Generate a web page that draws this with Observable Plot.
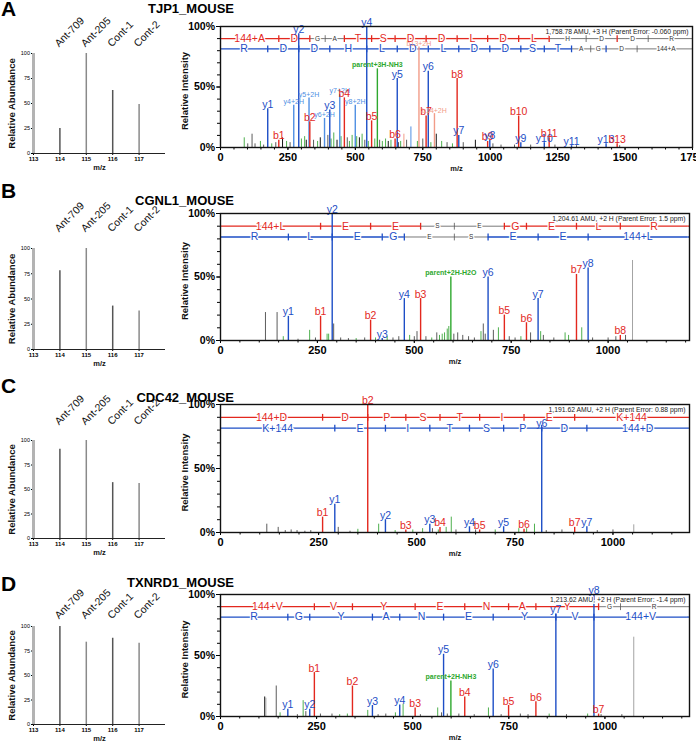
<!DOCTYPE html>
<html><head><meta charset="utf-8">
<script src="https://cdn.jsdelivr.net/npm/d3@7"></script>
<script src="https://cdn.jsdelivr.net/npm/@observablehq/plot@0.6"></script>
<style>
body{margin:0;background:#fff;font-family:Arial,"Liberation Sans",Helvetica,sans-serif;}
#fig{position:relative;width:696px;height:742px;overflow:hidden;background:#fff;}
.abs{position:absolute;line-height:1;white-space:nowrap;}
.letter{font-weight:bold;font-size:21px;color:#000;}
.title{font-weight:bold;font-size:13px;color:#000;text-align:right;width:234px;left:0;}
</style></head><body><div id="fig"></div>
<script>
// ---------- data ----------
const panelLetters = ["A","B","C","D"];
const proteins = ["TJP1_MOUSE","CGNL1_MOUSE","CDC42_MOUSE","TXNRD1_MOUSE"];
const channels = [114,115,116,117];
const channelLabels = ["Ant-709","Ant-205","Cont-1","Cont-2"];
const reporterA = [25,100,63,49];
const reporterB = [78,100,43,38];
const reporterC = [91,100,57,56];
const reporterD = [100,84,88,83];
const reporterTicks = [113,114,115,116,117];
const abundanceTicks = [0,25,50,75,100];
const intensityTicks = [0,50,100];
const mzTicksA = [0,250,500,750,1000,1250,1500,1750];
const mzTicksBCD = [0,250,500,750,1000];
const parentTexts = [
  "1,758.78 AMU, +3 H (Parent Error: -0.060 ppm)",
  "1,204.61 AMU, +2 H (Parent Error: 1.5 ppm)",
  "1,191.62 AMU, +2 H (Parent Error: 0.88 ppm)",
  "1,213.62 AMU, +2 H (Parent Error: -1.4 ppm)"
];

// Panel A  ADGATSDDLDLHDDR
const bLabelsA = ["144+A","D","G","A","T","S","D","D","L","D","L","H","D","D","R"];
const bIonsA = [216.15,331.17,388.19,459.23,560.28,647.31,762.34,877.36,990.45,1105.47,1218.56,1355.62,1470.65,1585.67];
const bSeenA = [1,1,0,1,1,1,1,1,1,1,1,0,1,0];
const yLabelsA = ["R","D","D","H","L","D","L","D","D","S","T","A","G","D","144+A"];
const yIonsA = [175.12,290.15,405.17,542.23,655.32,770.34,883.43,998.45,1113.48,1200.51,1301.56,1372.59,1429.62,1544.64];
const ySeenA = [1,1,1,1,1,1,1,1,1,1,1,0,1,0];
const mhA = 1759.78;
const annotA = [
  [175.12,32,"y1","y"],[216.15,6,"b1","b"],[271.6,35,"y4+2H","y2"],[290.15,94,"y2","y"],
  [328.2,41,"y5+2H","y2"],[331.17,21,"b2","b"],[385.7,24,"y6+2H","y2"],[405.17,31,"y3","y"],
  [442.2,44,"y7+2H","y2"],[459.23,41,"b4","b"],[499.7,35,"y8+2H","y2"],[542.23,100,"y4","y"],
  [560.28,22,"b5","b"],[581.6,65,"parent+3H-NH3","p"],[647.31,7,"b6","b"],[655.32,57,"y5","y"],
  [735.8,83,"b13+2H","b2"],[762.34,26,"b7","b"],[770.34,63,"y6","y"],[793.3,28,"b14+2H","b2"],
  [877.36,57,"b8","b"],[883.43,10,"y7","y"],[990.45,5,"b9","b"],[998.45,6,"y8","y"],
  [1105.47,26,"b10","b"],[1113.48,4,"y9","y"],[1200.51,4,"y10","y"],[1218.56,8,"b11","b"],
  [1301.56,1.5,"y11","y"],[1429.62,3,"y13","y"],[1470.65,3,"b13","b"]
];
const noiseA = [
  [88,8,"g"],[101,3,"k"],[117,11,"k"],[128,3,"k"],[148,5,"g"],[160,2,"k"],[190,3,"g"],[205,4,"k"],
  [230,8,"K"],[245,5,"g"],[258,4,"k"],[300,7,"g"],[312,9,"g"],[318,6,"K"],[345,6,"k"],[360,5,"g"],
  [370,8,"K"],[398,10,"k"],[410,7,"g"],[420,12,"g"],[432,6,"K"],[447,9,"g"],[470,8,"k"],[478,5,"g"],
  [488,10,"g"],[505,9,"g"],[515,8,"K"],[525,11,"g"],[535,6,"k"],[548,5,"g"],[572,7,"g"],[590,6,"k"],
  [600,5,"g"],[612,7,"g"],[622,5,"K"],[632,6,"g"],[660,4,"k"],[668,5,"g"],[680,11,"lr"],[690,6,"k"],
  [706,17,"lb"],[730,5,"g"],[750,7,"k"],[780,4,"g"],[800,11,"K"],[820,5,"g"],[840,4,"k"],[860,3,"g"],
  [900,4,"k"],[945,6,"K"],[1010,3,"k"],[1040,2,"k"],[1090,2,"k"],[1150,2,"k"],[1240,2,"k"],
  [1320,1.5,"k"],[1480,1.5,"k"]
];

// Panel B  LEESEGELR
const bLabelsB = ["144+L","E","E","S","E","G","E","L","R"];
const bIonsB = [258.19,387.24,516.28,603.31,732.35,789.37,918.41,1031.50];
const bSeenB = [1,1,1,0,1,1,1,1];
const yLabelsB = ["R","L","E","G","E","S","E","E","144+L"];
const yIonsB = [175.12,288.20,417.25,474.27,603.31,690.34,819.39,948.43];
const ySeenB = [1,1,1,1,0,1,1,1];
const mhB = 1205.6;
const annotB = [
  [175.12,19,"y1","y"],[258.19,19,"b1","b"],[288.2,100,"y2","y"],[387.24,16,"b2","b"],
  [417.25,1.5,"y3","y"],[474.27,33,"y4","y"],[516.28,33,"b3","b"],[594.3,50,"parent+2H-H2O","p"],
  [690.34,50,"y6","y"],[732.35,20,"b5","b"],[789.37,14,"b6","b"],[819.39,33,"y7","y"],
  [918.41,52,"b7","b"],[948.43,57,"y8","y"],[1031.5,4,"b8","b"]
];
const noiseB = [
  [116,22,"k"],[146,22,"k"],[162,3,"g"],[200,1,"k"],[230,8,"g"],[245,2,"k"],[275,5,"g"],[279,5,"g"],
  [292,13,"k"],[310,2,"k"],[330,1.5,"k"],[350,1.5,"g"],[372,2,"k"],[400,2,"g"],[430,3,"g"],[445,2,"k"],
  [460,3,"k"],[488,4,"g"],[500,3,"k"],[507,7,"k"],[530,3,"k"],[545,2,"g"],[558,6,"k"],[565,4,"g"],
  [572,5,"g"],[578,6,"g"],[585,9,"g"],[589,11,"g"],[602,5,"k"],[612,6,"k"],[625,4,"k"],[640,3,"k"],
  [655,2,"k"],[672,7,"g"],[678,13,"k"],[683,5,"k"],[704,8,"k"],[717,10,"g"],[745,3,"k"],[760,2,"k"],
  [775,3,"g"],[800,6,"k"],[826,7,"g"],[833,4,"k"],[860,2,"k"],[889,6,"g"],[898,4,"g"],[932,10,"g"],
  [960,2,"k"],[1000,2,"k"],[1020,3,"k"],[1045,4,"k"],[1063,63,"n"]
];

// Panel C  DDPSTIEK
const bLabelsC = ["144+D","D","P","S","T","I","E","K+144"];
const bIonsC = [260.14,375.16,472.22,559.25,660.30,773.38,902.42];
const bSeenC = [1,1,1,1,1,1,1];
const yLabelsC = ["K+144","E","I","T","S","P","D","144+D"];
const yIonsC = [291.22,420.26,533.34,634.39,721.42,818.47,933.50];
const ySeenC = [1,1,1,1,1,1,1];
const mhC = 1192.63;
const annotC = [
  [260.14,12,"b1","b"],[291.22,22,"y1","y"],[375.16,100,"b2","b"],[420.26,10,"y2","y"],
  [472.22,2,"b3","b"],[533.34,6.5,"y3","y"],[559.25,4,"b4","b"],[634.39,4.5,"y4","y"],
  [660.3,2,"b5","b"],[721.42,4.5,"y5","y"],[773.38,2.5,"b6","b"],[818.47,82,"y6","y"],
  [902.42,4,"b7","b"],[933.5,4.5,"y7","y"]
];
const noiseC = [
  [118,6.5,"k"],[147,4,"k"],[165,1.5,"k"],[180,2,"k"],[195,1.5,"k"],[215,1,"k"],[230,1.5,"k"],
  [300,4,"k"],[330,1,"k"],[350,2.5,"g"],[403,6.5,"g"],[445,1.5,"g"],[490,2,"g"],[515,3,"g"],
  [540,3,"k"],[555,2,"g"],[575,4,"g"],[588,12,"g"],[600,2,"k"],[650,2,"k"],[700,2,"g"],[760,3,"g"],
  [780,3,"g"],[800,6.5,"g"],[830,1.5,"k"],[870,2,"k"],[960,1.5,"k"],[1000,2,"k"],[1053,6,"n"]
];

// Panel D  VVYENAYGR
const bLabelsD = ["144+V","V","Y","E","N","A","Y","G","R"];
const bIonsD = [244.18,343.25,506.31,635.35,749.40,820.43,983.50,1040.52];
const bSeenD = [1,1,1,1,1,1,1,0];
const yLabelsD = ["R","G","Y","A","N","E","Y","V","144+V"];
const yIonsD = [175.12,232.14,395.20,466.24,580.28,709.33,872.39,971.46];
const ySeenD = [1,1,1,1,1,1,1,1];
const mhD = 1214.63;
const annotD = [
  [175.12,6,"y1","y"],[232.14,6,"y2","y"],[244.18,36,"b1","b"],[343.25,25,"b2","b"],
  [395.2,9,"y3","y"],[466.24,9.5,"y4","y"],[506.31,7,"b3","b"],[580.28,51,"y5","y"],
  [599.3,29,"parent+2H-NH3","p"],[635.35,16,"b4","b"],[709.33,39,"y6","y"],[749.4,9,"b5","b"],
  [820.43,12,"b6","b"],[872.39,84,"y7","y"],[971.46,100,"y8","y"],[983.5,2,"b7","b"]
];
const noiseD = [
  [115,16,"K"],[118,15,"n"],[145,25,"k"],[155,3,"g"],[200,1.5,"k"],[215,13,"g"],[222,4,"k"],
  [260,2,"k"],[290,2,"k"],[310,1.5,"g"],[330,2,"g"],[383,5,"g"],[410,1.5,"k"],[430,2,"k"],
  [455,3,"g"],[475,10,"g"],[520,1.5,"k"],[565,7,"g"],[575,3,"k"],[590,2,"k"],[620,2,"k"],
  [660,1.5,"k"],[697,7,"g"],[730,1.5,"k"],[780,2,"k"],[800,1.5,"k"],[855,2,"g"],[900,1.5,"k"],
  [955,2,"g"],[990,1.5,"k"],[1044,1.5,"k"],[1075,65,"n"]
];

// ---------- style / layout ----------
const FONT = 'Arial, "Liberation Sans", Helvetica, sans-serif';
const RED = "#e3281e", BLUE = "#1d4ec6", LBLUE = "#4f8fe3", LRED = "#f29c88", GREEN = "#2ea82e";
const COL = {b: RED, y: BLUE, b2: LRED, y2: LBLUE, p: GREEN, g: "#4fb04f", k: "#5c5c5c", K: "#151515", n: "#a3a3a3", lb: LBLUE, lr: LRED};
const GREYLINE = "#555";
const intFmt = d => String(d);
const layout = [
  {lt: 53, lb: 153, gap: 6, rt: 26, rb: 147, right: 692, xmax: 1750, letterTop: -2, titleTop: 1.5},
  {lt: 248, lb: 349, gap: 16, rt: 213, rb: 340, right: 689, xmax: 1210, letterTop: 179.5, titleTop: 193.5},
  {lt: 440, lb: 538, gap: 15, rt: 404, rb: 532, right: 689, xmax: 1195, letterTop: 374.5, titleTop: 390.5},
  {lt: 626, lb: 724, gap: 7, rt: 594, rb: 716, right: 689, xmax: 1220, letterTop: 572.5, titleTop: 575.5}
];
const spectra = [
  {bIons: bIonsA, bSeen: bSeenA, bLabels: bLabelsA, yIons: yIonsA, ySeen: ySeenA, yLabels: yLabelsA, mh: mhA, annot: annotA, noise: noiseA, ticks: mzTicksA},
  {bIons: bIonsB, bSeen: bSeenB, bLabels: bLabelsB, yIons: yIonsB, ySeen: ySeenB, yLabels: yLabelsB, mh: mhB, annot: annotB, noise: noiseB, ticks: mzTicksBCD},
  {bIons: bIonsC, bSeen: bSeenC, bLabels: bLabelsC, yIons: yIonsC, ySeen: ySeenC, yLabels: yLabelsC, mh: mhC, annot: annotC, noise: noiseC, ticks: mzTicksBCD},
  {bIons: bIonsD, bSeen: bSeenD, bLabels: bLabelsD, yIons: yIonsD, ySeen: ySeenD, yLabels: yLabelsD, mh: mhD, annot: annotD, noise: noiseD, ticks: mzTicksBCD}
];
const reporters = [reporterA, reporterB, reporterC, reporterD];

const vbar = {draw(ctx, size) { const r = Math.sqrt(size / Math.PI); ctx.moveTo(0, -r); ctx.lineTo(0, r); }};

function ladder(ions, seen, labels, end, yv, xmax) {
  const segs = [];
  const n = ions.length;
  for (let i = 0; i <= n; i++) {
    const x1 = i === 0 ? 0 : ions[i - 1];
    const x2 = i === n ? end : ions[i];
    const on = (i === 0 || seen[i - 1] === 1) && (i === n || seen[i] === 1);
    segs.push({x1, x2, mid: (x1 + x2) / 2, label: labels[i], on, y: yv});
  }
  const last = segs[segs.length - 1];
  const lines = segs.slice();
  if (end < xmax) lines.push({x1: end, x2: xmax, on: last.on, y: yv});
  const ticks = ions.map((x, i) => ({x, on: seen[i] === 1, y: yv}));
  return {segs, lines, ticks};
}

function ladderMarks(L, col) {
  return [
    Plot.ruleY(L.lines, {x1: "x1", x2: "x2", y: "y", stroke: d => d.on ? col : GREYLINE, strokeWidth: d => d.on ? 1.3 : 0.8, clip: true}),
    Plot.dot(L.ticks, {x: "x", y: "y", symbol: vbar, r: 3.4, fill: "none", stroke: d => d.on ? col : GREYLINE, strokeWidth: d => d.on ? 1.3 : 0.8, clip: true}),
    Plot.text(L.segs, {x: "mid", y: "y", text: "label", fill: d => d.on ? col : "#333", fontSize: d => d.on ? 10.5 : 6.5,
      stroke: "white", strokeWidth: 2.5, paintOrder: "stroke", clip: true})
  ];
}

function spectrum(k) {
  const L = layout[k], S = spectra[k];
  const W = 526, mt = 20, mb = 30;
  const h = mt + (L.rb - L.rt) + mb;
  const red = ladder(S.bIons, S.bSeen, S.bLabels, S.mh, 90, L.xmax);
  const blue = ladder(S.yIons, S.ySeen, S.yLabels, S.mh, 81.5, L.xmax);
  const ions = S.annot.filter(d => d[3] !== "p");
  const par = S.annot.filter(d => d[3] === "p");
  return Plot.plot({
    width: W, height: h, marginTop: mt, marginBottom: mb, marginLeft: 50, marginRight: W - (L.right - 170),
    style: {fontFamily: FONT, background: "transparent", overflow: "visible"},
    x: {domain: [0, L.xmax]}, y: {domain: [0, 100]},
    marks: [
      Plot.axisY({ticks: d3.range(0, 101, 10), tickFormat: () => "", tickSize: 3, label: null}),
      Plot.axisY({ticks: intensityTicks, tickFormat: d => d + "%", tickSize: 4, tickPadding: 1.5, fontSize: 10.5, fontWeight: "bold", label: null}),
      Plot.axisX({ticks: d3.range(0, L.xmax + 1, 50), tickFormat: () => "", tickSize: 2.5, label: null}),
      Plot.axisX({ticks: S.ticks, tickFormat: intFmt, tickSize: 3, tickPadding: 3, fontSize: 11, fontWeight: "bold", label: null}),
      ...ladderMarks(red, RED),
      ...ladderMarks(blue, BLUE),
      Plot.ruleX(S.noise, {x: d => d[0], y1: 0, y2: d => d[1], stroke: d => COL[d[2]], strokeWidth: 1}),
      Plot.ruleX(S.annot, {x: d => d[0], y1: 0, y2: d => d[1], stroke: d => COL[d[3]], strokeWidth: 1.4}),
      Plot.text(ions, {x: d => d[0], y: d => d[1], text: d => d[2], fill: d => COL[d[3]],
        fontSize: d => (d[3] === "b" || d[3] === "y") ? 10.5 : 7, lineAnchor: "bottom", dy: -1}),
      Plot.text(par, {x: d => d[0], y: d => d[1], text: d => d[2], fill: GREEN, fontSize: 7, fontWeight: "bold", lineAnchor: "bottom", dy: -2}),
      Plot.text([parentTexts[k]], {text: d => d, frameAnchor: "top-right", textAnchor: "end", lineAnchor: "middle", dx: -4, dy: 5.5,
        fontSize: 6.8, fill: "#222", stroke: "white", strokeWidth: 2, paintOrder: "stroke"}),
      Plot.frame({stroke: "#111", strokeWidth: 1.4}),
      Plot.text(["Relative Intensity"], {text: d => d, frameAnchor: "left", textAnchor: "middle", lineAnchor: "middle", rotate: -90, dx: -36, dy: 4, fontSize: 9.5, fontWeight: "bold", fill: "#111"}),
      Plot.text(["m/z"], {text: d => d, frameAnchor: "bottom", textAnchor: "middle", lineAnchor: "middle", dy: 21.5, fontSize: 7.5, fontWeight: "bold", fill: "#111"})
    ]
  });
}

function reporter(k) {
  const L = layout[k];
  const W = 175, mt = 50, mb = 24;
  const h = mt + (L.lb - L.lt) + mb;
  const vals = reporters[k];
  const barCol = ["#555", "#8a8a8a", "#555", "#8a8a8a"];
  return Plot.plot({
    width: W, height: h, marginTop: mt, marginBottom: mb, marginLeft: 33, marginRight: 10,
    style: {fontFamily: FONT, background: "transparent", overflow: "visible"},
    x: {domain: [113, 118]}, y: {domain: [0, 100]},
    marks: [
      Plot.axisY({ticks: abundanceTicks, tickFormat: intFmt, tickSize: 2, tickPadding: 1.5, fontSize: 5.5, label: null}),
      Plot.axisX({ticks: reporterTicks, tickFormat: intFmt, tickSize: 2, tickPadding: 1, fontSize: 6, fontWeight: "bold", label: null}),
      Plot.ruleX([113], {x: d => d, y1: 0, y2: 100, stroke: "#b3b3b3", strokeWidth: 3}),
      Plot.ruleY([0], {stroke: "#222", strokeWidth: 1}),
      Plot.ruleX(channels, {x: d => d, y1: 0, y2: (d, i) => vals[i], stroke: (d, i) => barCol[i], strokeWidth: 1.5}),
      Plot.text(channels, {x: d => d, text: (d, i) => channelLabels[i], frameAnchor: "top", dy: -L.gap, dx: -1,
        rotate: -45, textAnchor: "start", lineAnchor: "bottom", fontSize: 10.5, fill: "#111"}),
      Plot.text(["Relative Abundance"], {text: d => d, frameAnchor: "left", textAnchor: "middle", lineAnchor: "middle", rotate: -90, dx: -22, fontSize: 9.5, fontWeight: "bold", fill: "#111"}),
      Plot.text(["m/z"], {text: d => d, frameAnchor: "bottom", textAnchor: "middle", lineAnchor: "middle", dy: 14.5, fontSize: 7.5, fontWeight: "bold", fill: "#111"})
    ]
  });
}

const fig = document.getElementById("fig");
function place(node, left, top) {
  const div = document.createElement("div");
  div.className = "abs";
  div.style.left = left + "px";
  div.style.top = top + "px";
  div.appendChild(node);
  fig.appendChild(div);
}
for (let k = 0; k < 4; k++) {
  const L = layout[k];
  place(reporter(k), 0, L.lt - 50);
  place(spectrum(k), 170, L.rt - 20);
  const letter = document.createElement("div");
  letter.className = "abs letter";
  letter.style.left = "1px"; letter.style.top = L.letterTop + "px";
  letter.textContent = panelLetters[k];
  fig.appendChild(letter);
  const title = document.createElement("div");
  title.className = "abs title";
  title.style.top = L.titleTop + "px";
  title.textContent = proteins[k];
  fig.appendChild(title);
}
</script></body></html>
